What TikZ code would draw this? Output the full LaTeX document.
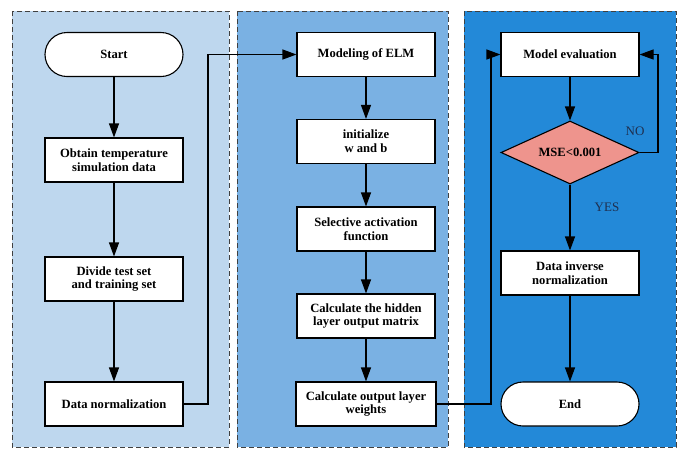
\documentclass[tikz,border=0pt]{standalone}
\usepackage{fontspec}
\setmainfont{Liberation Serif}
\usetikzlibrary{arrows.meta,shapes.geometric}
\definecolor{pone}{HTML}{BED7EE}
\definecolor{ptwo}{HTML}{7AB1E3}
\definecolor{pthree}{HTML}{2389D8}
\definecolor{dia}{HTML}{EE948D}
\definecolor{lbl}{HTML}{1F2F4F}
\tikzset{
  x=1pt,y=1pt,
  panel/.style={draw=black!75,dash pattern=on 5pt off 3pt,line width=0.8pt},
  box/.style={draw=black,fill=white,line width=1.1pt,minimum width=138pt,minimum height=44pt,
    inner sep=0pt,align=center,font=\fontsize{12.6}{13.8}\selectfont\bfseries},
  term/.style={box,rounded corners=22pt},
  dec/.style={diamond,draw=black,fill=dia,line width=1.1pt,minimum width=138pt,minimum height=63pt,
    aspect=2.2,inner sep=0pt,font=\fontsize{12.6}{13.8}\selectfont\bfseries},
  conn/.style={line width=1.1pt,-{Triangle[length=14pt,width=10pt]}},
  lab/.style={font=\fontsize{13}{14}\selectfont,text=lbl}
}
\begin{document}
\begin{tikzpicture}
\useasboundingbox (0,0) rectangle (686,-456);
\fill[white] (0,0) rectangle (686,-456);
\filldraw[panel,fill=pone] (12,-11) rectangle (229,-447);
\filldraw[panel,fill=ptwo] (237,-11) rectangle (448,-447);
\filldraw[panel,fill=pthree] (464,-11) rectangle (676,-447);
% column 1
\node[term] (start) at (114,-54.5) {Start};
\node[box] (obtain) at (114,-160) {Obtain temperature\\simulation data};
\node[box] (divide) at (114,-279) {Divide test set\\and training set};
\node[box] (norm) at (114,-404) {Data normalization};
% column 2
\node[box] (model) at (366,-54.5) {Modeling of ELM};
\node[box] (init) at (366,-141.5) {initialize\\w and b};
\node[box] (act) at (366,-229) {Selective activation\\function};
\node[box] (hidden) at (366,-316) {Calculate the hidden\\layer output matrix};
\node[box,minimum width=140pt] (outw) at (366,-404) {Calculate output layer\\weights};
% column 3
\node[box] (eval) at (570,-54.5) {Model evaluation};
\node[dec] (mse) at (570,-152.5) {MSE<0.001};
\node[box] (inv) at (570,-273) {Data inverse\\normalization};
\node[term] (end) at (570,-404) {End};
\coordinate (c1) at (208,-404);
\coordinate (c2) at (208,-54.5);
\coordinate (c3) at (491,-404);
\coordinate (c4) at (491,-54.5);
\coordinate (c5) at (658,-152.5);
\coordinate (c6) at (658,-54.5);
% connectors
\draw[conn] (start) -- (obtain);
\draw[conn] (obtain) -- (divide);
\draw[conn] (divide) -- (norm);
\draw[conn] (norm.east) -- (c1) -- (c2) -- (model.west);
\draw[conn] (model) -- (init);
\draw[conn] (init) -- (act);
\draw[conn] (act) -- (hidden);
\draw[conn] (hidden) -- (outw);
\draw[conn] (outw.east) -- (c3) -- (c4) -- (eval.west);
\draw[conn] (eval) -- (mse);
\draw[conn] (mse.east) -- (c5) -- (c6) -- (eval.east);
\draw[conn] (mse) -- (inv);
\draw[conn] (inv) -- (end);
\node[lab] (no) at (635,-131) {NO};
\node[lab] (yes) at (607,-207) {YES};
\end{tikzpicture}
\end{document}
